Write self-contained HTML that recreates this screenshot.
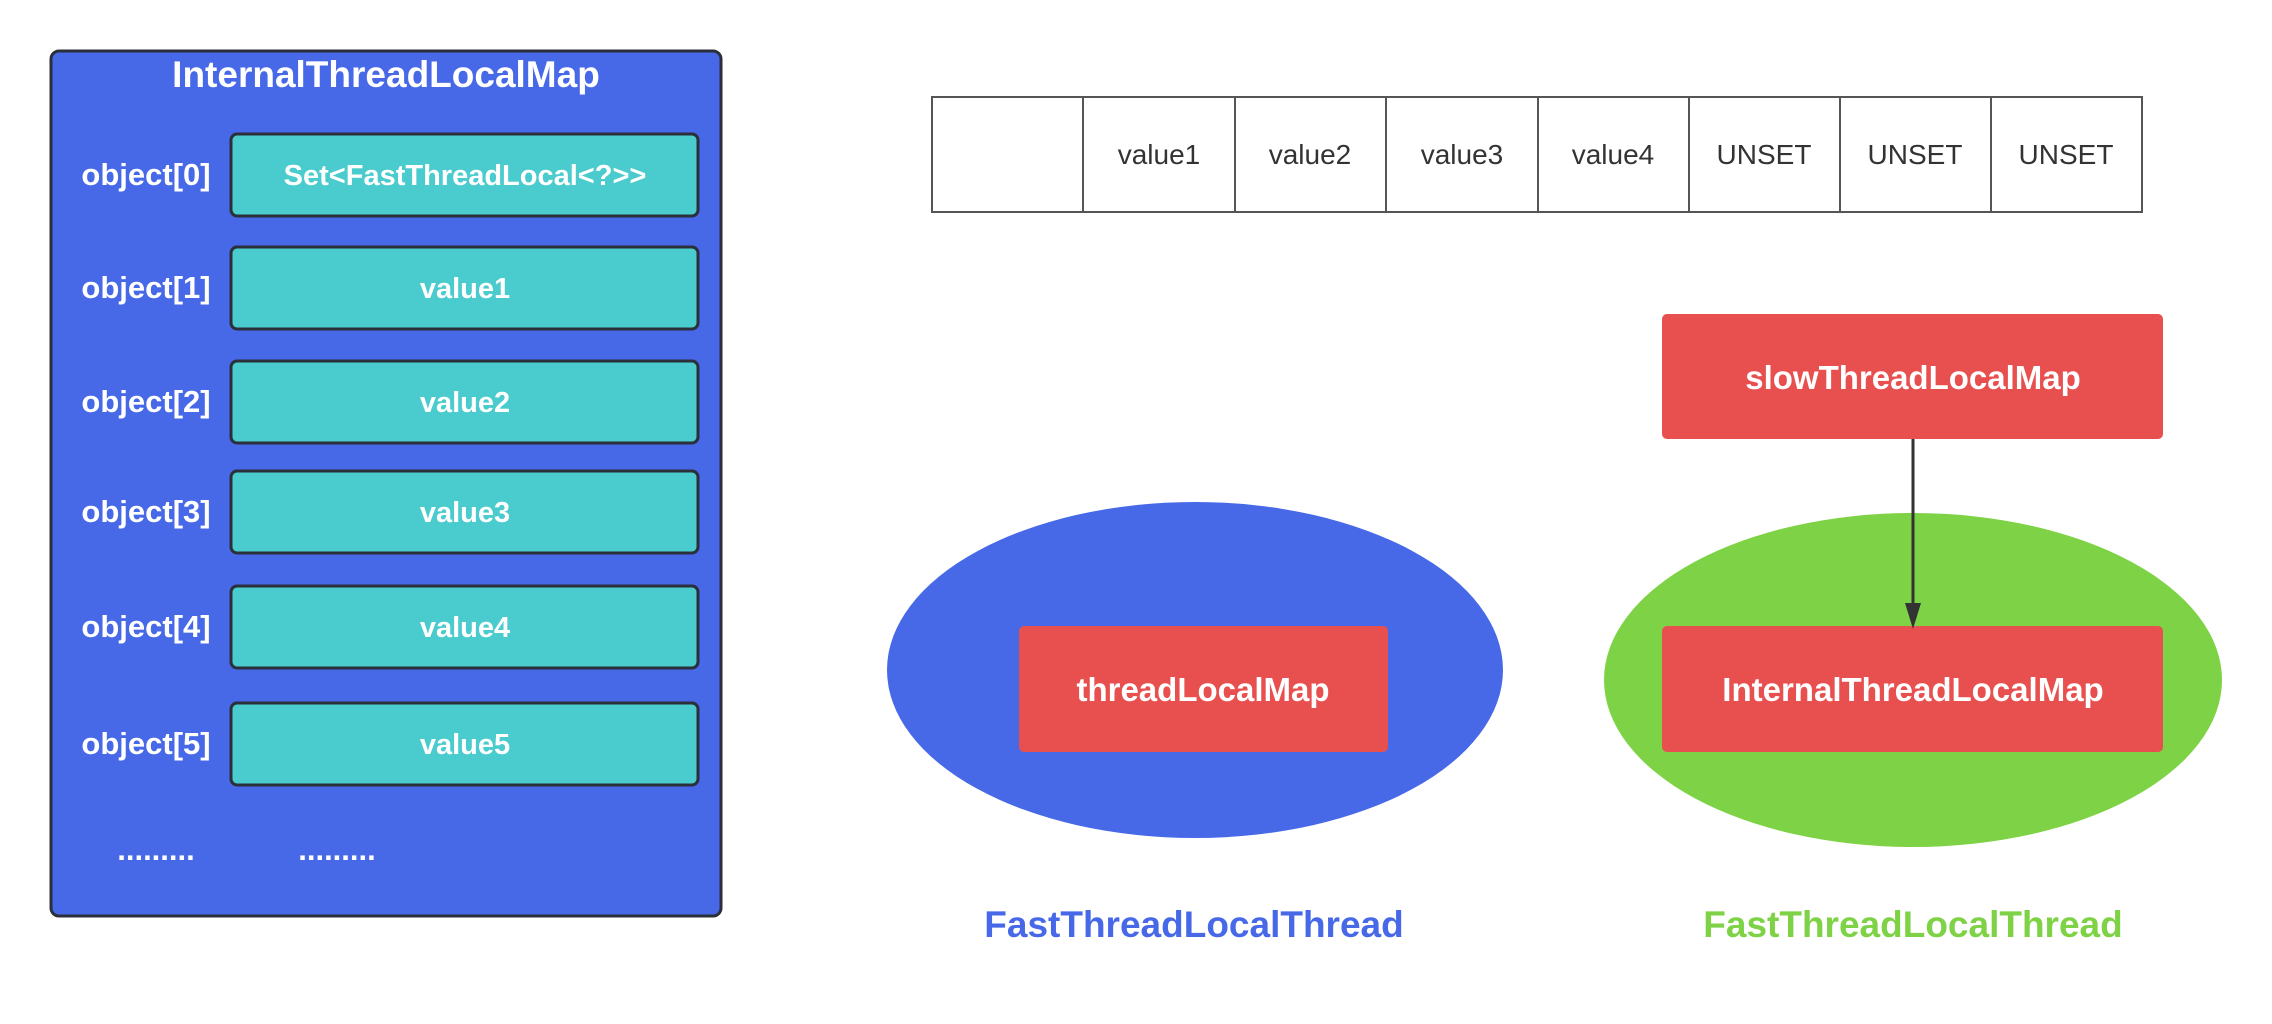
<!DOCTYPE html>
<html><head><meta charset="utf-8"><style>
html,body{margin:0;padding:0;background:#fff;}
svg{display:block;}
</style></head><body>
<svg width="2272" height="1024" viewBox="0 0 2272 1024" xmlns="http://www.w3.org/2000/svg" font-family="'Liberation Sans', sans-serif">
<rect x="51" y="51" width="670" height="865" rx="8" fill="#4769E8" stroke="#2b2f3a" stroke-width="3"/>
<text x="386" y="87" text-anchor="middle" font-size="37" font-weight="bold" fill="#fff">InternalThreadLocalMap</text>
<g font-size="29" font-weight="bold" fill="#fff" text-anchor="middle">
<rect x="231" y="134" width="467" height="82" rx="6" fill="#4ACBCD" stroke="#2b2f3a" stroke-width="3"/>
<rect x="231" y="247" width="467" height="82" rx="6" fill="#4ACBCD" stroke="#2b2f3a" stroke-width="3"/>
<rect x="231" y="361" width="467" height="82" rx="6" fill="#4ACBCD" stroke="#2b2f3a" stroke-width="3"/>
<rect x="231" y="471" width="467" height="82" rx="6" fill="#4ACBCD" stroke="#2b2f3a" stroke-width="3"/>
<rect x="231" y="586" width="467" height="82" rx="6" fill="#4ACBCD" stroke="#2b2f3a" stroke-width="3"/>
<rect x="231" y="703" width="467" height="82" rx="6" fill="#4ACBCD" stroke="#2b2f3a" stroke-width="3"/>
<text x="465" y="185">Set&lt;FastThreadLocal&lt;?&gt;&gt;</text>
<text x="465" y="298">value1</text>
<text x="465" y="412">value2</text>
<text x="465" y="522">value3</text>
<text x="465" y="637">value4</text>
<text x="465" y="754">value5</text>
</g>
<g font-size="31" font-weight="bold" fill="#fff" text-anchor="middle">
<text x="146" y="185">object[0]</text>
<text x="146" y="298">object[1]</text>
<text x="146" y="412">object[2]</text>
<text x="146" y="522">object[3]</text>
<text x="146" y="637">object[4]</text>
<text x="146" y="754">object[5]</text>
<text x="156" y="860">.........</text>
<text x="337" y="860">.........</text>
</g>
<g stroke="#555" stroke-width="2" fill="#fff">
<rect x="932" y="97" width="1210" height="115"/>
<line x1="1083" y1="97" x2="1083" y2="212"/><line x1="1235" y1="97" x2="1235" y2="212"/>
<line x1="1386" y1="97" x2="1386" y2="212"/><line x1="1538" y1="97" x2="1538" y2="212"/>
<line x1="1689" y1="97" x2="1689" y2="212"/><line x1="1840" y1="97" x2="1840" y2="212"/>
<line x1="1991" y1="97" x2="1991" y2="212"/>
</g>
<g font-size="28" fill="#333" text-anchor="middle">
<text x="1159" y="164">value1</text><text x="1310" y="164">value2</text>
<text x="1462" y="164">value3</text><text x="1613" y="164">value4</text>
<text x="1764" y="164">UNSET</text><text x="1915" y="164">UNSET</text>
<text x="2066" y="164">UNSET</text>
</g>
<ellipse cx="1195" cy="670" rx="308" ry="168" fill="#4769E8"/>
<ellipse cx="1913" cy="680" rx="309" ry="167" fill="#7ED245"/>
<rect x="1019" y="626" width="369" height="126" rx="5" fill="#E8504F"/>
<rect x="1662" y="314" width="501" height="125" rx="5" fill="#E8504F"/>
<rect x="1662" y="626" width="501" height="126" rx="5" fill="#E8504F"/>
<line x1="1913" y1="439" x2="1913" y2="606" stroke="#333" stroke-width="3"/>
<polygon points="1905,603 1921,603 1913,629" fill="#333"/>
<g font-size="33" font-weight="bold" fill="#fff" text-anchor="middle">
<text x="1203" y="701">threadLocalMap</text>
<text x="1913" y="389">slowThreadLocalMap</text>
<text x="1913" y="701">InternalThreadLocalMap</text>
</g>
<text x="1194" y="937" text-anchor="middle" font-size="37" font-weight="bold" fill="#4769E8">FastThreadLocalThread</text>
<text x="1913" y="937" text-anchor="middle" font-size="37" font-weight="bold" fill="#7ED245">FastThreadLocalThread</text>
</svg>
</body></html>
